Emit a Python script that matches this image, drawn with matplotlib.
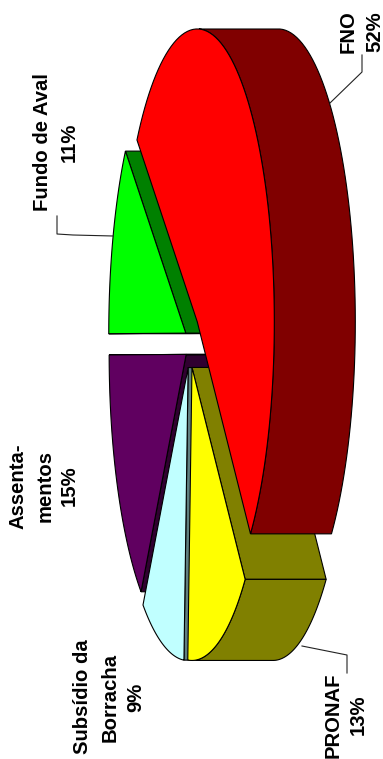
import numpy as np
import matplotlib
matplotlib.use("Agg")
import matplotlib.pyplot as plt
from matplotlib.patches import Polygon

names = ["FNO", "PRONAF", "Subsídio da\nBorracha", "Assenta-\nmentos", "Fundo de Aval"]
values = [52.2, 13.0, 9.1, 15.0, 10.7]
tops = ["#ff0000", "#ffff00", "#c0ffff", "#600060", "#00ff00"]
sides = ["#800000", "#808000", "#608080", "#300030", "#008000"]
nudge_x = [0, -3, -2, 0, 0]

START = 141.6
CX, CY, A, B = 192.5, 342.0, 77.0, 293.0
EXPLODE, DEPTH = 0.0926, 81.0
EDGE = 0.8

fig = plt.figure(figsize=(3.83, 7.59), dpi=100)
ax = fig.add_axes([0, 0, 1, 1])
ax.set_xlim(0, 383)
ax.set_ylim(759, 0)
ax.axis("off")


def ell(deg, cx, cy):
    r = np.radians(deg)
    return np.column_stack([cx + A * np.cos(r), cy - B * np.sin(r)])


edges = START - np.concatenate([[0], np.cumsum(values)]) * 3.6
slices = []
for i, v in enumerate(values):
    a0, a1 = edges[i], edges[i + 1]
    mid = np.radians((a0 + a1) / 2)
    cx = CX + EXPLODE * A * np.cos(mid) + nudge_x[i]
    cy = CY - EXPLODE * B * np.sin(mid)
    slices.append((i, a0, a1, cx, cy))

# paint from the far side of the extrusion to the near side
for order, i in enumerate([4, 3, 2, 1, 0]):
    _, a0, a1, cx, cy = slices[i]
    z = 5 + order * 5
    sh = np.array([DEPTH, 0])
    apex = np.array([cx, cy])
    ang = np.linspace(a0, a1, 90)
    arc = ell(ang, cx, cy)
    # a cut face shows only when its outward normal points along the extrusion
    if -np.sin(np.radians(a0)) > -0.01:
        p = ell(np.array([a0]), cx, cy)[0]
        ax.add_patch(Polygon([apex, p, p + sh, apex + sh], closed=True, fc=sides[i],
                             ec="black", lw=EDGE, zorder=z))
    if np.sin(np.radians(a1)) > -0.01:
        p = ell(np.array([a1]), cx, cy)[0]
        ax.add_patch(Polygon([apex, p, p + sh, apex + sh], closed=True, fc=sides[i],
                             ec="black", lw=EDGE, zorder=z))
    vis = arc[np.cos(np.radians(ang)) >= 0]
    if len(vis) > 1:
        ax.add_patch(Polygon(np.vstack([vis, (vis + sh)[::-1]]), closed=True, fc=sides[i],
                             ec="black", lw=EDGE, zorder=z + 1))
    ax.add_patch(Polygon(np.vstack([apex, arc]), closed=True, fc=tops[i],
                         ec="black", lw=EDGE, zorder=z + 2))

font = dict(family=["Liberation Sans", "DejaVu Sans"], fontsize=14.6, fontweight="bold",
            rotation=90, ha="center", va="center", color="black", zorder=50)
labels = [
    (["FNO", "52%"], [348, 375], 32),
    (["PRONAF", "13%"], [333, 358], 715),
    (["Subsídio da", "Borracha", "9%"], [83, 110, 136], 697),
    (["Assenta-", "mentos", "15%"], [18, 45, 69], 486),
    (["Fundo de Aval", "11%"], [43, 69], 142),
]
for lines, xs, y in labels:
    for s, x in zip(lines, xs):
        ax.text(x, y, s, **font)

leaders = [
    ([330, 362, 362], [103, 72, 55]),
    ([113, 73, 57, 57], [236, 235, 234, 216]),
    ([302, 347, 347], [646, 655, 673]),
]
for xs, ys in leaders:
    ax.plot(xs, ys, color="#222222", lw=0.8, zorder=40)

fig.savefig("out.png", dpi=100, facecolor="white")
